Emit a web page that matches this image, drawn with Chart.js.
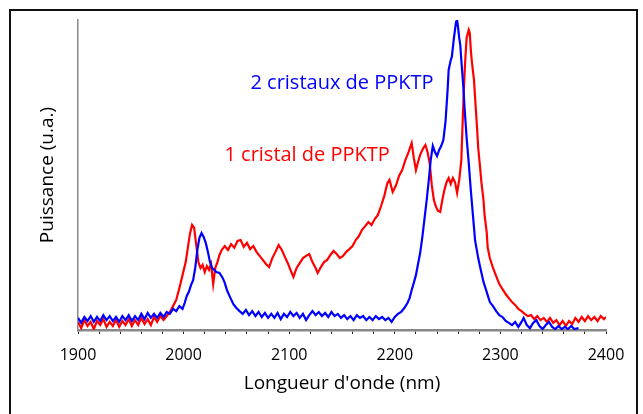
<!DOCTYPE html>
<html>
<head>
<meta charset="utf-8">
<script src="https://cdn.jsdelivr.net/npm/chart.js@4"></script>
<style>
  html, body { margin: 0; padding: 0; background: #fff; }
  #frame { position: absolute; left: 9px; top: 9px; width: 625px; height: 420px; border: 2px solid #111; }
  #wrap { position: absolute; left: 0; top: 0; width: 643px; height: 414px; }
</style>
</head>
<body>
<div id="frame"></div>
<div id="wrap"><canvas id="spectre" width="643" height="414"></canvas></div>
<script>
// 1 cristal de PPKTP
const redNm = [1900,1903,1906,1909,1912,1915,1918,1921,1924,1927,1930,1933,1936,1939,1942,1945,1948,1951,1954,1957,1960,1963,1966,1969,1972,1975,1978,1981,1984,
  1987,1990,1993,1996,1999,
  2002,2004,2006,2008,2010,2012,2014,2016,2018,2020,2022,2024,2026,2028,2030,2032,2034,2036,
  2039,2042,2045,2048,2051,2054,2057,2060,2063,2066,2069,2072,2075,2078,2081,2084,2087,2090,2093,2096,2099,2102,
  2104,2107,2110,2113,2116,2119,2122,2125,2127,
  2130,2133,2136,2139,2142,2145,2148,2151,2154,2157,2160,2163,2166,2169,2172,2175,2178,2181,2184,2187,2190,2193,
  2195,2198,2201,2204,2207,2210,2213,2216,2218,2220,2222,2224,2227,
  2229,2231,2233,2235,2237,2239,2241,2243,2245,2247,2249,2251,2253,2255,2257,2259,2261,2263,
  2264,2265,2266,2267,2268,2270,2271,2272,2273,2275,2276,2278,2279,2281,2282,2284,2285,2287,2288,2290,
  2293,2296,2299,2302,2305,2308,2311,2314,2317,2320,2323,2326,2329,2332,2335,2338,2341,2344,2347,2350,2353,2356,2359,2362,2365,2368,2371,2374,2377,2380,2383,2386,2389,2392,2395,2398,2400];
const redVal = [2.6,0.6,3.2,1.3,2.6,0.3,2.9,1.6,3.5,1.0,2.6,1.3,3.2,1.0,2.9,1.6,3.5,1.3,3.2,1.6,3.9,1.9,3.5,1.6,4.2,2.6,4.5,3.2,4.5,
  5.8,7.7,9.7,13.5,17.7,
  21.9,26.5,31.0,33.9,32.9,27.4,21.9,20.0,21.0,18.7,20.6,19.4,21.3,14.8,20.0,21.9,24.2,25.8,
  27.1,25.8,27.7,26.5,28.7,29.0,26.8,28.1,26.1,27.1,25.2,23.9,22.6,21.3,20.3,23.2,25.2,27.4,25.8,23.5,21.3,18.7,
  17.1,20.0,21.6,23.2,23.9,24.5,21.9,20.0,18.4,
  20.3,21.9,22.6,24.2,25.5,24.5,23.2,23.9,25.2,26.1,27.1,29.0,30.3,32.3,33.5,34.8,33.9,35.8,37.1,40.0,43.2,47.4,
  48.4,44.5,46.5,49.7,51.6,54.8,57.4,60.3,55.5,51.6,54.2,56.5,58.7,
  59.7,57.4,53.9,46.8,41.9,39.7,38.4,38.1,41.9,45.2,47.7,49.0,47.1,49.0,47.7,44.2,48.4,54.8,
  64.5,74.0,82.3,88.7,94.2,96.8,95.8,90.3,86.5,80.6,75.2,64.5,58.7,51.6,47.7,41.9,37.1,31.6,26.5,23.2,
  20.0,17.4,14.8,13.2,11.6,10.3,9.0,8.1,6.8,6.1,5.2,4.5,4.8,3.5,4.5,3.2,3.9,2.6,3.9,2.3,3.2,1.6,2.9,1.3,2.9,1.9,3.9,2.6,4.2,2.9,4.5,3.2,4.2,2.9,4.5,3.5,4.2];

// 2 cristaux de PPKTP
const blueNm = [1900,1903,1906,1909,1912,1915,1918,1921,1924,1927,1930,1933,1936,1939,1942,1945,1948,1951,1954,1957,1960,1963,1966,1969,1972,1975,1978,1981,1984,
  1987,1990,1993,1996,1999,
  2001,2003,2005,2007,2009,2011,2013,2015,2017,2019,2021,2023,2025,2027,2029,2031,
  2034,2037,2039,2041,
  2044,2047,2050,2053,2056,2059,2062,2065,2068,2071,2074,2077,2080,2083,2086,2089,2092,2095,2098,2101,2104,2107,2110,2113,2116,2119,2122,2125,2128,2131,2134,2137,2140,2143,2146,2149,2152,2155,2158,2161,2164,2167,2170,2173,2176,2179,2182,2185,2188,2191,2194,2197,2200,
  2203,2206,2209,2212,
  2214,2216,2218,2220,2222,2224,2226,2228,2230,2232,2234,2236,2238,2240,2242,2244,2246,2248,
  2250,2251,2253,2254,2256,2258,2259,2260,2261,2262,2263,2265,2266,2268,2270,2272,2274,2276,2279,2281,2284,2287,2290,2293,2296,2299,2302,2305,2308,2311,2314,2317,2320,2322,2325,2328,2331,2334,2337,2340,2343,2346,2349,2352,2355,2358,2361,2364,2367,2370,2374];
const blueVal = [3.9,2.3,4.2,2.9,4.5,2.6,4.2,2.9,4.8,3.2,4.5,2.9,4.2,2.6,4.5,3.2,4.8,2.9,4.5,3.2,5.2,3.5,5.5,3.9,5.2,3.9,5.5,4.2,5.8,
  5.2,6.8,6.1,7.7,6.8,
  8.7,11.0,12.3,14.5,16.1,20.0,25.8,29.7,31.3,30.0,28.1,25.2,21.9,20.0,19.4,18.7,
  18.4,16.8,15.2,12.9,
  10.6,8.4,7.1,6.1,5.2,6.5,4.8,6.1,4.5,5.8,4.2,5.5,3.9,5.2,3.9,5.5,3.5,5.2,4.2,5.8,4.5,5.5,3.9,5.2,3.2,4.8,6.1,4.8,5.8,4.5,5.5,4.2,5.8,4.5,5.2,3.9,4.8,3.5,4.5,3.2,4.8,3.9,4.5,3.2,4.2,3.2,4.5,3.5,4.2,3.2,3.9,2.6,4.2,
  5.2,5.8,7.1,8.7,
  10.3,12.9,15.2,17.7,21.3,24.8,29.7,35.5,41.3,47.7,54.8,59.4,57.4,56.1,58.1,59.4,61.3,67.1,
  77.4,83.9,87.1,88.1,94.2,99.4,100,97.4,94.2,92.0,87.0,78.0,72.0,62.0,54.0,45.0,37.0,29.0,23.2,20.0,15.5,12.3,9.0,7.7,6.1,4.8,4.2,2.9,2.3,1.6,2.6,1.0,2.6,3.9,1.6,0.6,2.3,3.2,1.3,0.3,1.6,2.6,1.0,0.3,1.3,0.3,1.0,0.3,1.3,0.3,0.6];

// text notes written inside the plot
const noteText = ['2 cristaux de PPKTP', '1 cristal de PPKTP'];
const noteNm = [2150, 2117];
const noteVal = [79.7, 56.5];
const noteColor = ['#0000ff', '#ff0000'];

const majorStep = 100;

function toPoints(xs, ys) {
  return xs.map((x, i) => ({x: x, y: ys[i]}));
}

const notesPlugin = {
  id: 'notes',
  afterDatasetsDraw(chart) {
    const ctx = chart.ctx;
    const xs = chart.scales.x, ys = chart.scales.y;
    ctx.save();
    ctx.font = '20px "Open Sans"';
    ctx.textAlign = 'center';
    ctx.textBaseline = 'middle';
    noteText.forEach((t, i) => {
      ctx.fillStyle = noteColor[i];
      ctx.fillText(t, xs.getPixelForValue(noteNm[i]), ys.getPixelForValue(noteVal[i]));
    });
    ctx.restore();
  }
};

new Chart(document.getElementById('spectre'), {
  type: 'line',
  data: {
    datasets: [
      {
        label: '2 cristaux de PPKTP',
        data: toPoints(blueNm, blueVal),
        borderColor: '#0000ff',
        borderWidth: 2.2,
        pointRadius: 0,
        tension: 0
      },
      {
        label: '1 cristal de PPKTP',
        data: toPoints(redNm, redVal),
        borderColor: '#ff0000',
        borderWidth: 2.2,
        pointRadius: 0,
        tension: 0
      }
    ]
  },
  options: {
    responsive: false,
    animation: false,
    layout: { padding: { left: 0, top: 20, right: 37, bottom: 0 } },
    plugins: { legend: { display: false }, tooltip: { enabled: false } },
    scales: {
      x: {
        type: 'linear',
        min: 1900,
        max: 2400,
        afterFit(scale) { scale.height = 84; },
        border: { color: '#888', width: 2.5 },
        grid: { drawOnChartArea: false, color: '#222', tickLength: 4, lineWidth: 1 },
        ticks: {
          stepSize: 20,
          autoSkip: false,
          maxRotation: 0,
          padding: 12,
          color: '#000',
          font: { family: 'Open Sans', size: 16 },
          callback: v => (v % majorStep === 0 ? String(v) : '')
        },
        title: {
          display: true,
          text: "Longueur d'onde (nm)",
          color: '#000',
          font: { family: 'Open Sans', size: 19 },
          padding: { top: 0, bottom: 19 }
        }
      },
      y: {
        min: 0,
        max: 100,
        afterFit(scale) { scale.width = 78; },
        border: { color: '#888', width: 1.5 },
        grid: { display: false },
        ticks: { display: false },
        title: {
          display: true,
          text: 'Puissance (u.a.)',
          color: '#000',
          font: { family: 'Open Sans', size: 19 },
          padding: { top: 36, bottom: 0 }
        }
      }
    }
  },
  plugins: [notesPlugin]
});
</script>
</body>
</html>
